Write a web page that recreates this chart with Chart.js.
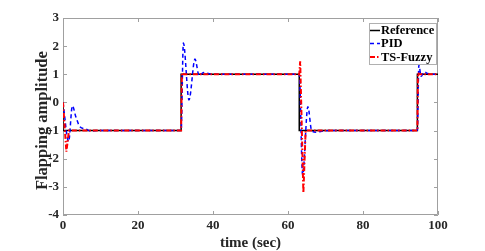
<!DOCTYPE html>
<html>
<head>
<meta charset="utf-8">
<script src="https://cdn.jsdelivr.net/npm/chart.js@4/dist/chart.umd.min.js"></script>
<style>
html,body{margin:0;padding:0;background:#fff;}
#c{display:block;}
</style>
</head>
<body>
<canvas id="c" width="485" height="251"></canvas>
<script>
// ---- data ----
const seriesNames = ['Reference', 'PID', 'TS-Fuzzy'];
const xTicks = [0, 20, 40, 60, 80, 100];
const yTicks = [-4, -3, -2, -1, 0, 1, 2, 3];

const refT = [0, 0, 31.5, 31.5, 63, 63, 94.5, 94.5, 100];
const refY = [0, -1, -1, 1, 1, -1, -1, 1, 1];

const pidT = [0, 1.5, 2.5, 3.4, 4.5, 6, 7.5, 9, 31.5,
              32.1, 33.6, 35.2, 36.3, 37.5, 39, 41, 63,
              63.9, 65.3, 66.3, 67.5, 69, 71, 94.5,
              94.9, 95.5, 96.3, 97.3, 98.5, 100];
const pidY = [0, -1.39, -0.12, -0.5, -0.86, -0.94, -1.02, -1.0, -1.0,
              2.11, 0.09, 1.54, 0.95, 1.06, 1.02, 1.0, 1.0,
              -2.58, -0.15, -1.0, -1.06, -1.02, -1.0, -1.0,
              1.33, 0.93, 1.08, 1.03, 1.0, 1.0];

const fuzT = [0, 0.9, 1.6, 31.5, 31.7, 32.2, 63, 63.25, 64.1, 64.7, 94.5, 94.65, 95.0, 100];
const fuzY = [0, -1.75, -1, -1, 1.05, 1, 1, 1.46, -3.22, -1, -1, 1.05, 1, 1];

const toPts = (t, y) => t.map((v, i) => ({x: v, y: y[i]}));

const FONT = "'Liberation Serif', 'Times New Roman', serif";

const boxPlugin = {
  id: 'boxTicks',
  beforeDatasetsDraw(chart) {
    const {ctx, chartArea: a, scales: {x, y}} = chart;
    ctx.save();
    ctx.strokeStyle = '#a0a0a0';
    ctx.lineWidth = 1;
    ctx.beginPath();
    ctx.rect(a.left + 0.5, a.top + 0.5, a.right - a.left - 1, a.bottom - a.top - 1);
    const L = 4;
    xTicks.forEach(v => {
      const px = Math.round(x.getPixelForValue(v)) + 0.5;
      ctx.moveTo(px, a.bottom); ctx.lineTo(px, a.bottom - L);
      ctx.moveTo(px, a.top); ctx.lineTo(px, a.top + L);
    });
    yTicks.forEach(v => {
      const py = Math.round(y.getPixelForValue(v)) + 0.5;
      ctx.moveTo(a.left, py); ctx.lineTo(a.left + L, py);
      ctx.moveTo(a.right, py); ctx.lineTo(a.right - L, py);
    });
    ctx.stroke();
    ctx.restore();
  },
  afterDraw(chart) {
    const {ctx} = chart;
    const bx = 369.5, by = 23.5, bw = 67, bh = 41;
    ctx.save();
    ctx.fillStyle = '#fff';
    ctx.fillRect(bx, by, bw, bh);
    ctx.strokeStyle = '#b0b0b0';
    ctx.lineWidth = 1;
    ctx.strokeRect(bx, by, bw, bh);
    const rows = [30.5, 43.5, 57];
    chart.data.datasets.forEach((ds, i) => {
      const ry = rows[i];
      ctx.strokeStyle = ds.borderColor;
      ctx.lineWidth = ds.borderWidth;
      ctx.setLineDash(ds.borderDash || []);
      ctx.beginPath();
      ctx.moveTo(370, ry); ctx.lineTo(380, ry);
      ctx.stroke();
      ctx.setLineDash([]);
      ctx.fillStyle = '#000';
      ctx.font = "bold 12.5px " + FONT;
      ctx.textBaseline = 'middle';
      ctx.textAlign = 'left';
      ctx.fillText(ds.label, 381, ry + 0.5);
    });
    ctx.restore();
  }
};

new Chart(document.getElementById('c'), {
  type: 'line',
  data: {
    datasets: [
      {label: seriesNames[0], data: toPts(refT, refY), borderColor: '#000000', borderWidth: 1.5,
       pointRadius: 0, tension: 0, order: 3},
      {label: seriesNames[1], data: toPts(pidT, pidY), borderColor: '#0000ff', borderWidth: 1.5,
       borderDash: [4, 3], pointRadius: 0, cubicInterpolationMode: 'monotone', order: 2},
      {label: seriesNames[2], data: toPts(fuzT, fuzY), borderColor: '#ff0000', borderWidth: 2,
       borderDash: [5, 2, 1.5, 2], pointRadius: 0, tension: 0, order: 1}
    ]
  },
  options: {
    responsive: false,
    animation: false,
    devicePixelRatio: 1,
    layout: {padding: {left: 0, top: 18, right: 47, bottom: 0}},
    plugins: {legend: {display: false}, tooltip: {enabled: false}},
    scales: {
      x: {
        type: 'linear', min: 0, max: 100,
        afterBuildTicks: s => { s.ticks = xTicks.map(v => ({value: v})); },
        afterFit: s => { s.height = 36; },
        grid: {display: false, drawTicks: false},
        border: {display: false},
        ticks: {color: '#262626', font: {family: FONT, size: 13, weight: 'bold'}, padding: 3, maxRotation: 0},
        title: {display: true, text: 'time (sec)', color: '#262626',
                font: {family: FONT, size: 15, weight: 'bold', lineHeight: 1}, padding: {top: 0, bottom: 0}}
      },
      y: {
        type: 'linear', min: -4, max: 3,
        afterBuildTicks: s => { s.ticks = yTicks.map(v => ({value: v})); },
        afterFit: s => { s.width = 63; },
        grid: {display: false, drawTicks: false},
        border: {display: false},
        ticks: {color: '#262626', font: {family: FONT, size: 13, weight: 'bold'}, padding: 4},
        title: {display: true, text: 'Flapping amplitude  ', color: '#262626',
                font: {family: FONT, size: 16.5, weight: 'bold', lineHeight: 1}, padding: {top: 34, bottom: 0}}
      }
    }
  },
  plugins: [boxPlugin]
});
</script>
</body>
</html>
